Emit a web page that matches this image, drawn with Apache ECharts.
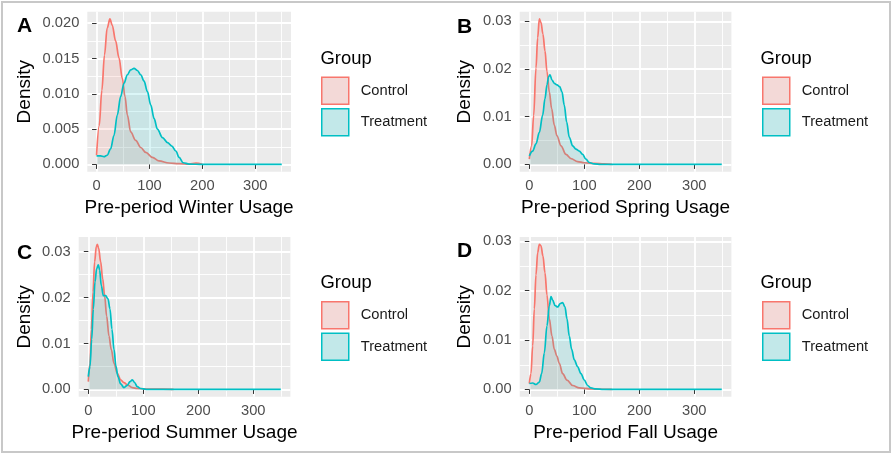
<!DOCTYPE html>
<html>
<head>
<meta charset="utf-8">
<script src="https://cdn.jsdelivr.net/npm/echarts@6/dist/echarts.min.js"></script>
<style>
  html, body { margin: 0; padding: 0; background: #ffffff; }
  #chart { width: 894px; height: 454px; }
</style>
</head>
<body>
<div id="chart"></div>
<script>
// ---- Axis breaks -------------------------------------------------------
const usageRange = [0, 350];
const usageTicks = [0, 100, 200, 300];
const usageMinorTicks = [50, 150, 250, 350];
const densityTicksFine = [0, 0.005, 0.01, 0.015, 0.02];
const densityMinorFine = [0.0025, 0.0075, 0.0125, 0.0175];
const densityTicks = [0, 0.01, 0.02, 0.03];
const densityMinor = [0.005, 0.015, 0.025];

// ---- Labels ------------------------------------------------------------
const groups = ['Control', 'Treatment'];
const panelLetters = ['A', 'B', 'C', 'D'];
const seasonTitles = [
  'Pre-period Winter Usage',
  'Pre-period Spring Usage',
  'Pre-period Summer Usage',
  'Pre-period Fall Usage'
];

// ---- Kernel density estimates: [usage, density] ------------------------
const winterControl = [[0,0.0013],[5,0.0055],[10,0.0105],[15,0.0155],[20,0.0193],[25.3,0.0206],[29.7,0.0197],[36,0.0175],[42.4,0.0151],[48.7,0.0122],[53.8,0.0096],[58.2,0.0070],[64.5,0.0046],[74,0.0034],[83.5,0.0024],[93,0.0017],[105.6,0.0010],[118,0.0005],[137,0.0002],[156,0.0001],[175,0.00005],[188,0.00018],[200,0.00002]];
const winterTreatment = [[0,0.0012],[7.6,0.0012],[13.9,0.0011],[20,0.0013],[26.6,0.0022],[32.9,0.0041],[39.2,0.0070],[45.5,0.0096],[51.9,0.0115],[58.2,0.0127],[64.5,0.0134],[70.8,0.0136],[77.2,0.0133],[83.5,0.0127],[89.8,0.0118],[96.1,0.0103],[102.5,0.0084],[108.8,0.0065],[115,0.0050],[124.6,0.0038],[134,0.0031],[142.3,0.0026],[149.9,0.0019],[156,0.0010],[163.8,0.00024],[175,0.00005],[200,0],[250,0],[300,0],[350,0]];

const springControl = [[0,0.0011],[4.2,0.0039],[7.9,0.0103],[12.1,0.0202],[15.2,0.0266],[18.2,0.0305],[21.2,0.0298],[24.8,0.0273],[28.5,0.0238],[32.1,0.0195],[36.4,0.0152],[40.6,0.0117],[45.5,0.0082],[50.3,0.0060],[57.6,0.0039],[66.7,0.0021],[75.8,0.0012],[87.9,0.0006],[100,0.00035],[118,0.0002],[136,0.0001],[150,0.00003]];
const springTreatment = [[0,0.0018],[6,0.0028],[12.1,0.0043],[18.2,0.0067],[24.2,0.0103],[28.5,0.0138],[32.1,0.0167],[35.2,0.0184],[37.6,0.0188],[41.2,0.0177],[45.5,0.0170],[50.3,0.0167],[55.2,0.0163],[59.4,0.0152],[63.6,0.0124],[67.9,0.0089],[72.7,0.0057],[78.8,0.0039],[84.8,0.0032],[90.9,0.0028],[97,0.0021],[103,0.0011],[109,0.0004],[118,0.0001],[130,0],[200,0],[275,0],[350,0]];

const summerControl = [[0,0.0017],[3,0.0057],[5.5,0.0131],[8.5,0.0212],[11.5,0.0278],[14.5,0.0311],[16.4,0.0316],[18.8,0.0307],[22.4,0.0278],[26.1,0.0241],[29.7,0.0204],[33.3,0.0160],[37.6,0.0116],[41.8,0.0087],[46.7,0.0057],[52.7,0.0035],[58.8,0.0021],[64.8,0.0015],[70.9,0.0010],[80,0.0004],[89,0.0002],[110,0.0001],[135,0.00005],[155,0.00002]];
const summerTreatment = [[0,0.0028],[3,0.0050],[6.1,0.0109],[9.1,0.0175],[12.1,0.0234],[15.2,0.0263],[18.2,0.0271],[20.6,0.0260],[23.6,0.0226],[27.3,0.0204],[31.5,0.0204],[35.8,0.0197],[39.4,0.0175],[43,0.0131],[46.7,0.0087],[50.3,0.0050],[53.9,0.0028],[58.8,0.0012],[64.8,0.0004],[70.9,0.0009],[75.8,0.0017],[80,0.0021],[84.2,0.0015],[89,0.0006],[95,0.0002],[105,0.00002],[150,0],[250,0],[350,0]];

const fallControl = [[0,0.0012],[3,0.0032],[6.1,0.0088],[9.1,0.0163],[12.1,0.0232],[15.2,0.0277],[18.2,0.0294],[21.2,0.0291],[24.8,0.0270],[28.5,0.0236],[32.1,0.0191],[36.4,0.0143],[41.2,0.0108],[45.5,0.0081],[50.3,0.0067],[54.5,0.0053],[60.6,0.0032],[68.5,0.0019],[78.8,0.0008],[90.9,0.0003],[112,0.0001],[135,0.00004],[150,0.00002]];
const fallTreatment = [[0,0.0012],[6,0.0013],[12.1,0.0010],[18.2,0.0015],[22.4,0.0032],[27.3,0.0074],[32.1,0.0129],[36.4,0.0170],[39.4,0.0188],[42.4,0.0181],[46.7,0.0170],[51.5,0.0167],[56.4,0.0174],[60.6,0.0176],[64.8,0.0167],[68.5,0.0143],[72.7,0.0108],[77,0.0081],[81.8,0.0060],[87.9,0.0046],[93.9,0.0032],[100,0.0019],[106,0.0008],[112,0.0003],[121,0.0001],[135,0],[200,0],[275,0],[350,0]];

// ---- Styling -----------------------------------------------------------
const FONT = '"Liberation Sans", Arial, Helvetica, sans-serif';
const lineColors = ['#F8766D', '#00BFC4'];
const fillColors = ['rgba(248,118,109,0.2)', 'rgba(0,191,196,0.2)'];
const keyFills = ['#F3D9D7', '#C2E8E9'];
const PANEL_BG = '#EBEBEB';

// Panel layout (pixel positions of each facet on the page)
const layout = [
  { grid: { left: 87.3, top: 11.7, width: 203.7, height: 160 }, yNameGap: 53,
    letter: { left: 17, top: 16 }, groupTitle: { left: 320.5, top: 49.5 }, legend: { left: 321, top: 76.5 } },
  { grid: { left: 519.7, top: 11.7, width: 211.7, height: 160 }, yNameGap: 45.5,
    letter: { left: 457, top: 16.5 }, groupTitle: { left: 760.5, top: 49.5 }, legend: { left: 762, top: 76.5 } },
  { grid: { left: 78.7, top: 237, width: 211.7, height: 159.7 }, yNameGap: 44.5,
    letter: { left: 17, top: 242.5 }, groupTitle: { left: 320.5, top: 274 }, legend: { left: 321, top: 301 } },
  { grid: { left: 519.7, top: 237, width: 211.7, height: 159.7 }, yNameGap: 45.5,
    letter: { left: 457, top: 241 }, groupTitle: { left: 760.5, top: 274 }, legend: { left: 762, top: 301 } }
];

const panelData = [
  { control: winterControl, treatment: winterTreatment, yTicks: densityTicksFine, yMinor: densityMinorFine, digits: 3 },
  { control: springControl, treatment: springTreatment, yTicks: densityTicks, yMinor: densityMinor, digits: 2 },
  { control: summerControl, treatment: summerTreatment, yTicks: densityTicks, yMinor: densityMinor, digits: 2 },
  { control: fallControl, treatment: fallTreatment, yTicks: densityTicks, yMinor: densityMinor, digits: 2 }
];

// ggplot-style 5% expansion of continuous scales
const xPad = (usageRange[1] - usageRange[0]) * 0.05;
const xMin = usageRange[0] - xPad;
const xMax = usageRange[1] + xPad;

const grids = [], xAxes = [], yAxes = [], series = [], legends = [], titles = [];

panelData.forEach((p, i) => {
  const L = layout[i];
  const yPeak = Math.max(...p.control.map(d => d[1]), ...p.treatment.map(d => d[1]));
  const yMin = -0.05 * yPeak;
  const yMax = 1.05 * yPeak;

  grids.push(Object.assign({ show: true, backgroundColor: PANEL_BG, borderWidth: 0, containLabel: false }, L.grid));

  // major x axis: labels, ticks and major grid lines
  xAxes.push({
    gridIndex: i, type: 'value', min: xMin, max: xMax, position: 'bottom',
    axisLine: { show: false },
    axisTick: { show: true, customValues: usageTicks, length: 4.5, lineStyle: { color: '#333333', width: 1 } },
    axisLabel: { customValues: usageTicks, margin: 7, color: '#4D4D4D', fontSize: 14.7, fontFamily: FONT },
    splitLine: { show: true, lineStyle: { color: '#FFFFFF', width: 1.8 } },
    name: seasonTitles[i], nameLocation: 'middle', nameGap: 27,
    nameTextStyle: { fontSize: 19, color: '#000000', fontFamily: FONT }
  });
  // minor x axis: minor grid lines only
  xAxes.push({
    gridIndex: i, type: 'value', min: xMin, max: xMax, position: 'bottom',
    axisLine: { show: false },
    axisTick: { show: false, customValues: usageMinorTicks },
    axisLabel: { show: false, customValues: usageMinorTicks },
    splitLine: { show: true, lineStyle: { color: '#FFFFFF', width: 0.9 } }
  });

  yAxes.push({
    gridIndex: i, type: 'value', min: yMin, max: yMax, position: 'left',
    axisLine: { show: false },
    axisTick: { show: true, customValues: p.yTicks, length: 4.5, lineStyle: { color: '#333333', width: 1 } },
    axisLabel: { customValues: p.yTicks, margin: 8, color: '#4D4D4D', fontSize: 14.7, fontFamily: FONT,
      formatter: v => Number(v).toFixed(p.digits) },
    splitLine: { show: true, lineStyle: { color: '#FFFFFF', width: 1.8 } },
    name: 'Density', nameLocation: 'middle', nameRotate: 90, nameGap: L.yNameGap,
    nameTextStyle: { fontSize: 19, color: '#000000', fontFamily: FONT }
  });
  yAxes.push({
    gridIndex: i, type: 'value', min: yMin, max: yMax, position: 'left',
    axisLine: { show: false },
    axisTick: { show: false, customValues: p.yMinor },
    axisLabel: { show: false, customValues: p.yMinor },
    splitLine: { show: true, lineStyle: { color: '#FFFFFF', width: 0.9 } }
  });

  [p.control, p.treatment].forEach((values, g) => {
    series.push({
      name: groups[g], type: 'line', data: values,
      xAxisIndex: 2 * i, yAxisIndex: 2 * i,
      showSymbol: false, symbol: 'none', smooth: 0.35, smoothMonotone: 'x',
      lineStyle: { color: lineColors[g], width: 1.7 },
      itemStyle: { color: lineColors[g] },
      areaStyle: { color: fillColors[g], origin: 'auto' },
      silent: true, animation: false, z: 2 + g
    });
  });

  legends.push({
    orient: 'vertical', left: L.legend.left, top: L.legend.top, padding: 0,
    itemWidth: 27, itemHeight: 27, itemGap: 3, icon: 'rect', selectedMode: false,
    textStyle: { fontSize: 14.7, color: '#1A1A1A', fontFamily: FONT, padding: [2, 0, 0, 7] },
    data: groups.map((name, g) => ({
      name, icon: 'rect',
      itemStyle: { color: keyFills[g], borderColor: lineColors[g], borderWidth: 1.5 }
    }))
  });

  titles.push({
    text: panelLetters[i], left: L.letter.left, top: L.letter.top, padding: 0,
    textStyle: { fontSize: 21, fontWeight: 'bold', color: '#000000', fontFamily: FONT }
  });
  titles.push({
    text: 'Group', left: L.groupTitle.left, top: L.groupTitle.top, padding: 0,
    textStyle: { fontSize: 18.4, fontWeight: 'normal', color: '#000000', fontFamily: FONT }
  });
});

const chart = echarts.init(document.getElementById('chart'), null, { renderer: 'canvas' });
chart.setOption({
  backgroundColor: '#FFFFFF',
  animation: false,
  textStyle: { fontFamily: FONT },
  title: titles,
  legend: legends,
  grid: grids,
  xAxis: xAxes,
  yAxis: yAxes,
  series: series,
  graphic: [{
    type: 'rect', silent: true, z: 100,
    shape: { x: 2, y: 2, width: 888, height: 450 },
    style: { fill: 'none', stroke: '#C8C8C8', lineWidth: 2 }
  }]
});
</script>
</body>
</html>
